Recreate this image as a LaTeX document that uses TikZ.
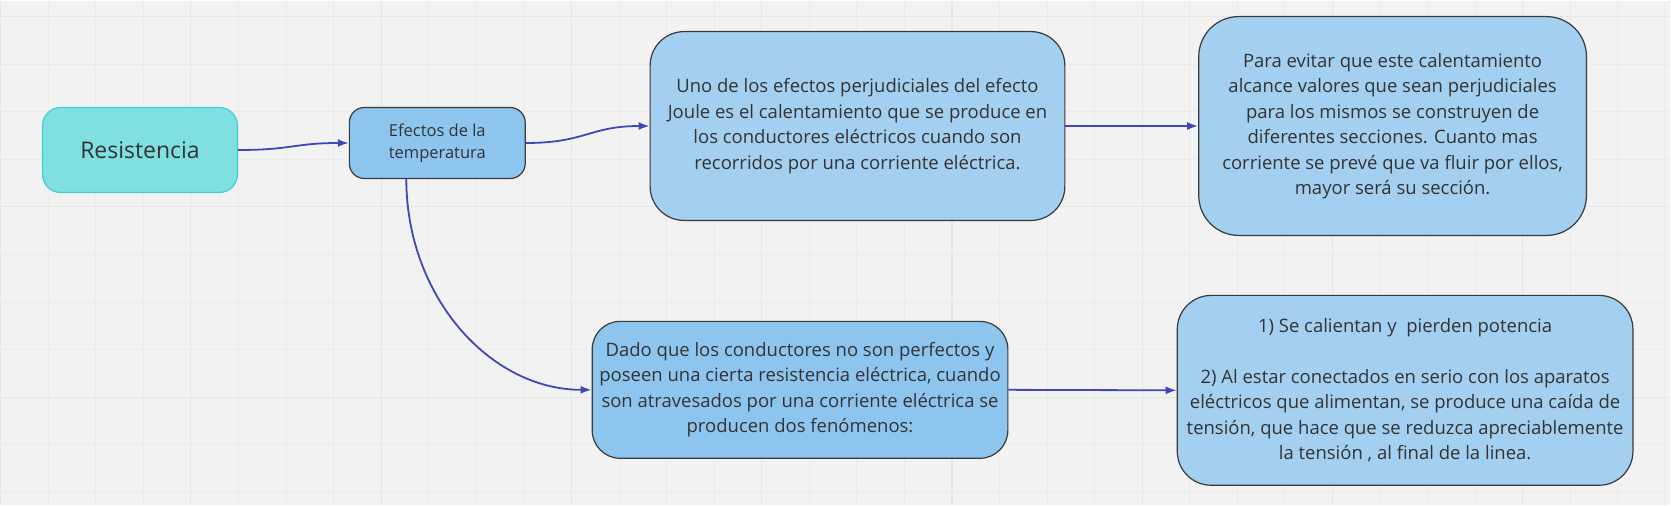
\documentclass[tikz,border=0pt]{standalone}
\usepackage{fontspec}
\setmainfont{Open Sans}
\usetikzlibrary{arrows.meta,positioning}
\definecolor{fondo}{HTML}{F2F2F2}
\definecolor{rejilla}{HTML}{EBEBEB}
\definecolor{rejillab}{HTML}{E6E6E6}
\definecolor{turq}{HTML}{80DFE0}
\definecolor{turqborde}{HTML}{3DCFD6}
\definecolor{azulosc}{HTML}{8EC5EF}
\definecolor{azulcla}{HTML}{A3CFF1}
\definecolor{borde}{HTML}{3A3A3A}
\definecolor{flechacol}{HTML}{4148B6}
\definecolor{texto}{HTML}{333333}

\begin{document}
\begin{tikzpicture}[x=1pt,y=-1pt]
\tikzstyle{caja}=[rectangle,draw=borde,line width=1.2pt,
text=texto,align=center,inner sep=0pt,
font=\fontsize{18.5}{25.5}\selectfont]
\tikzstyle{flecha}=[draw=flechacol,line width=1.8pt,
-{Latex[length=11pt,width=8pt]}]

% fondo con rejilla
\fill[fondo] (0,0) rectangle (1671,505);
\foreach \i in {0,...,35}
  \draw[rejilla,line width=0.9pt] ({\i*47.6},0) -- ({\i*47.6},505);
\foreach \i in {0,...,10}
  \draw[rejilla,line width=0.9pt] (0,{16+\i*47.6}) -- (1671,{16+\i*47.6});
\foreach \i in {0,...,8}
  \draw[rejillab,line width=1.2pt] ({\i*190.4},0) -- ({\i*190.4},505);
\foreach \i in {0,...,2}
  \draw[rejillab,line width=1.2pt] (0,{16+\i*190.4}) -- (1671,{16+\i*190.4});
\useasboundingbox (0,0) rectangle (1671,505);

\node[caja,fill=turq,draw=turqborde,rounded corners=18pt,
  minimum width=195pt,minimum height=85pt,
  font=\fontsize{23}{27}\selectfont] at (139.5,149.5) (0) {Resistencia};
\node[caja,fill=azulosc,rounded corners=15pt,
  minimum width=176pt,minimum height=71pt,
  font=\fontsize{16.5}{22}\selectfont] at (437,142.5) (1) {Efectos de la\\temperatura};
\node[caja,fill=azulcla,rounded corners=34pt,
  minimum width=415pt,minimum height=189pt] at (857.5,125.5) (2)
  {Uno de los efectos perjudiciales del efecto\\
   Joule es el calentamiento que se produce en\\
   los conductores eléctricos cuando son\\
   recorridos por una corriente eléctrica.};
\node[caja,fill=azulcla,rounded corners=40pt,
  minimum width=388pt,minimum height=219pt] at (1393,125.5) (3)
  {Para evitar que este calentamiento\\
   alcance valores que sean perjudiciales\\
   para los mismos se construyen de\\
   diferentes secciones. Cuanto mas\\
   corriente se prevé que va fluir por ellos,\\
   mayor será su sección.};
\node[caja,fill=azulosc,rounded corners=28pt,
  minimum width=416pt,minimum height=137pt] at (800,389.5) (4)
  {Dado que los conductores no son perfectos y\\
   poseen una cierta resistencia eléctrica, cuando\\
   son atravesados por una corriente eléctrica se\\
   producen dos fenómenos:};
\node[caja,fill=azulcla,rounded corners=34pt,
  minimum width=456pt,minimum height=190pt] at (1405.5,390) (5)
  {1) Se calientan y~ pierden potencia\\[25.5pt]
   2) Al estar conectados en serio con los aparatos\\
   eléctricos que alimentan, se produce una caída de\\
   tensión, que hace que se reduzca apreciablemente\\
   la tensión , al final de la linea.};

\draw[flecha] (0.east) .. controls +(55,0) and +(-55,0) .. (1.west);
\draw[flecha] (1.east) .. controls +(60,0) and +(-60,0) .. (2.west);
\draw[flecha] (2.east) -- (3.west);
\draw[flecha] ([xshift=-31pt]1.south) .. controls +(0,117) and +(-102,0) .. (4.west);
\draw[flecha] (4.east) -- (5.west);

\end{tikzpicture}
\end{document}
